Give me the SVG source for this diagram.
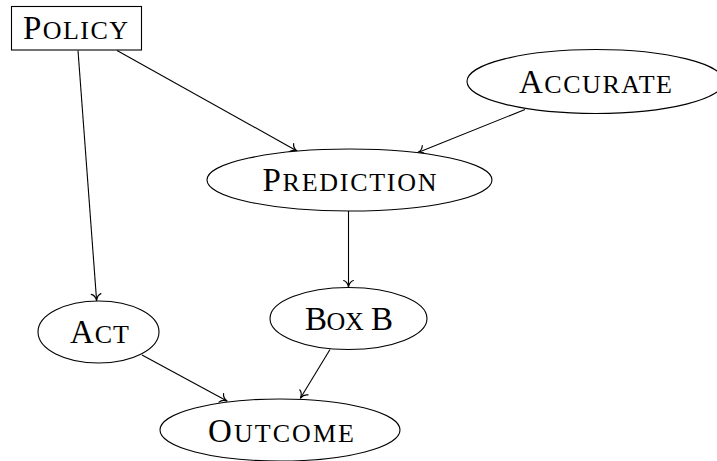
<svg xmlns="http://www.w3.org/2000/svg" width="717" height="461" viewBox="0 0 717 461">
  <style>
    .shape { fill: #ffffff; stroke: #000000; stroke-width: 1.1; }
    .label { font-family: "Liberation Serif", "Times New Roman", serif; font-size: 33px; fill: #000000; text-anchor: middle; }
    .sc { font-size: 26px; }
    .edge { fill: none; stroke: #000000; stroke-width: 1.1; marker-end: url(#to); }
  </style>
  <defs>
    <!-- curved open arrow tip -->
    <marker id="to" markerUnits="userSpaceOnUse" markerWidth="16" markerHeight="16" viewBox="-9 -8 11 16" refX="0" refY="0" orient="auto" overflow="visible">
      <path d="M -6.5,-4.8 C -5.4,-1.8 -2.2,-0.4 0,0 C -2.2,0.4 -5.4,1.8 -6.5,4.8" fill="none" stroke="#000000" stroke-width="1.2" stroke-linecap="round" stroke-linejoin="round"/>
    </marker>
  </defs>

  <g id="connectors">
    <line class="edge" x1="78" y1="50.5" x2="96.6" y2="300.5"/>
    <line class="edge" x1="117" y1="50.5" x2="297" y2="151"/>
    <line class="edge" x1="525" y1="109.5" x2="418" y2="152.5"/>
    <line class="edge" x1="348.5" y1="211" x2="348.5" y2="287"/>
    <line class="edge" x1="142" y1="355" x2="227" y2="401"/>
    <line class="edge" x1="330" y1="349.5" x2="300.5" y2="398"/>
  </g>

  <g id="policy">
    <rect class="shape" x="11.5" y="6.5" width="130" height="43.5"/>
    <text class="label" x="75.5" y="39" textLength="105" lengthAdjust="spacing">P<tspan class="sc">OLICY</tspan></text>
  </g>

  <g id="accurate">
    <ellipse class="shape" cx="595.5" cy="81.5" rx="128.5" ry="32"/>
    <text class="label" x="595.5" y="93" textLength="153" lengthAdjust="spacing">A<tspan class="sc">CCURATE</tspan></text>
  </g>

  <g id="prediction">
    <ellipse class="shape" cx="349.5" cy="180" rx="142.5" ry="31"/>
    <text class="label" x="349.5" y="190.5" textLength="174" lengthAdjust="spacing">P<tspan class="sc">REDICTION</tspan></text>
  </g>

  <g id="act">
    <ellipse class="shape" cx="98.5" cy="332" rx="60.5" ry="31"/>
    <text class="label" x="99.5" y="342.5" textLength="59" lengthAdjust="spacing">A<tspan class="sc">CT</tspan></text>
  </g>

  <g id="boxb">
    <ellipse class="shape" cx="348.5" cy="318.5" rx="78.5" ry="31"/>
    <text class="label" x="349" y="329.5" textLength="88" lengthAdjust="spacing">B<tspan class="sc">OX</tspan> B</text>
  </g>

  <g id="outcome">
    <ellipse class="shape" cx="280" cy="430" rx="120" ry="31"/>
    <text class="label" x="281" y="442" textLength="146" lengthAdjust="spacing">O<tspan class="sc">UTCOME</tspan></text>
  </g>
</svg>
